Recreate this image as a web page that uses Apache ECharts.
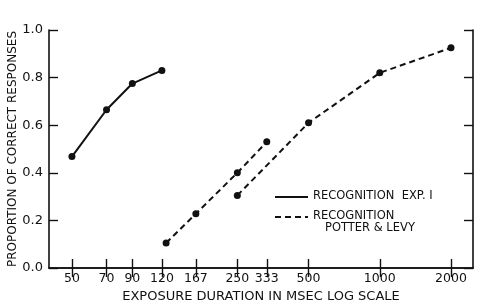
<!DOCTYPE html>
<html>
<head>
<meta charset="utf-8">
<script src="https://cdn.jsdelivr.net/npm/echarts@6/dist/echarts.min.js"></script>
<style>
  html, body { margin: 0; padding: 0; background: #fff; }
  #chart { width: 490px; height: 304px; }
</style>
</head>
<body>
<div id="chart"></div>
<script>
// tick labels on the log-scale x axis (msec)
var xTicks = [50, 70, 90, 120, 167, 250, 333, 500, 1000, 2000];

// recognition exp. I
var expDur = [50, 70, 90, 120];
var expVal = [0.468, 0.665, 0.775, 0.83];

// potter & levy, two dashed runs
var plaDur = [125, 167, 250, 333];
var plaVal = [0.105, 0.228, 0.4, 0.53];
var plbDur = [250, 500, 1000, 2000];
var plbVal = [0.305, 0.61, 0.82, 0.925];

var INK = "#111";
var FONT = "DejaVu Sans";

function lg(v) { return Math.log10(v); }
function pairs(xs, ys) {
  return xs.map(function (x, i) { return [lg(x), ys[i]]; });
}

var myChart = echarts.init(document.getElementById("chart"));
var tickVals = xTicks.map(lg);
var xMin = lg(50) - 0.097;
var xMax = lg(2000) + 0.093;

var tickStyle = { color: INK, width: 1.4 };

var option = {
  backgroundColor: "#fff",
  animation: false,
  grid: { left: 49, right: 17, top: 30, bottom: 36, containLabel: false, outerBoundsMode: "none" },
  xAxis: [
    {
      type: "value",
      position: "bottom",
      min: xMin,
      max: xMax,
      name: "EXPOSURE DURATION IN MSEC LOG SCALE",
      nameLocation: "middle",
      nameGap: 19,
      nameTextStyle: { color: INK, fontFamily: FONT, fontSize: 13 },
      axisLine: { show: true, lineStyle: { color: INK, width: 1.6 } },
      axisTick: { show: true, inside: true, length: 9, customValues: tickVals, lineStyle: tickStyle },
      axisLabel: {
        customValues: tickVals,
        margin: 4,
        color: INK,
        fontFamily: FONT,
        fontSize: 12.5,
        formatter: function (v) { return String(Math.round(Math.pow(10, v))); }
      },
      splitLine: { show: false }
    },
    {
      type: "value",
      position: "top",
      min: xMin,
      max: xMax,
      axisLine: { show: true, lineStyle: { color: INK, width: 1.6 } },
      axisTick: { show: true, inside: true, length: 9, customValues: tickVals, lineStyle: tickStyle },
      axisLabel: { show: false },
      splitLine: { show: false }
    }
  ],
  yAxis: [
    {
      type: "value",
      position: "left",
      min: 0,
      max: 1,
      interval: 0.2,
      name: "PROPORTION OF CORRECT RESPONSES",
      nameLocation: "middle",
      nameGap: 30,
      nameMoveOverlap: false,
      nameTextStyle: { color: INK, fontFamily: FONT, fontSize: 12 },
      axisLine: { show: true, lineStyle: { color: INK, width: 1.6 } },
      axisTick: { show: true, inside: true, length: 9, lineStyle: tickStyle },
      axisLabel: {
        margin: 6,
        color: INK,
        fontFamily: FONT,
        fontSize: 13,
        formatter: function (v) { return v.toFixed(1); }
      },
      splitLine: { show: false }
    },
    {
      type: "value",
      position: "right",
      min: 0,
      max: 1,
      interval: 0.2,
      axisLine: { show: true, lineStyle: { color: INK, width: 1.6 } },
      axisTick: { show: true, inside: true, length: 9, lineStyle: tickStyle },
      axisLabel: { show: false },
      splitLine: { show: false }
    }
  ],
  series: [
    {
      name: "RECOGNITION EXP. I",
      type: "line",
      data: pairs(expDur, expVal),
      symbol: "circle",
      symbolSize: 7,
      itemStyle: { color: INK },
      lineStyle: { color: INK, width: 2 }
    },
    {
      name: "POTTER & LEVY a",
      type: "line",
      data: pairs(plaDur, plaVal),
      symbol: "circle",
      symbolSize: 7,
      itemStyle: { color: INK },
      lineStyle: { color: INK, width: 2, type: [6, 4] }
    },
    {
      name: "POTTER & LEVY b",
      type: "line",
      data: pairs(plbDur, plbVal),
      symbol: "circle",
      symbolSize: 7,
      itemStyle: { color: INK },
      lineStyle: { color: INK, width: 2, type: [6, 4] }
    }
  ],
  // hand-drawn key, as in the original figure
  graphic: [
    { type: "line", shape: { x1: 275, y1: 197, x2: 308, y2: 197 }, style: { stroke: INK, lineWidth: 2 } },
    { type: "text", left: 313, top: 190, style: { text: "RECOGNITION  EXP. I", fill: INK, font: "11.5px " + FONT } },
    { type: "line", shape: { x1: 275, y1: 217, x2: 308, y2: 217 }, style: { stroke: INK, lineWidth: 2, lineDash: [6, 4] } },
    { type: "text", left: 313, top: 210, style: { text: "RECOGNITION", fill: INK, font: "11.5px " + FONT } },
    { type: "text", left: 325, top: 222, style: { text: "POTTER & LEVY", fill: INK, font: "11.5px " + FONT } }
  ]
};

option && myChart.setOption(option, true);
</script>
</body>
</html>
